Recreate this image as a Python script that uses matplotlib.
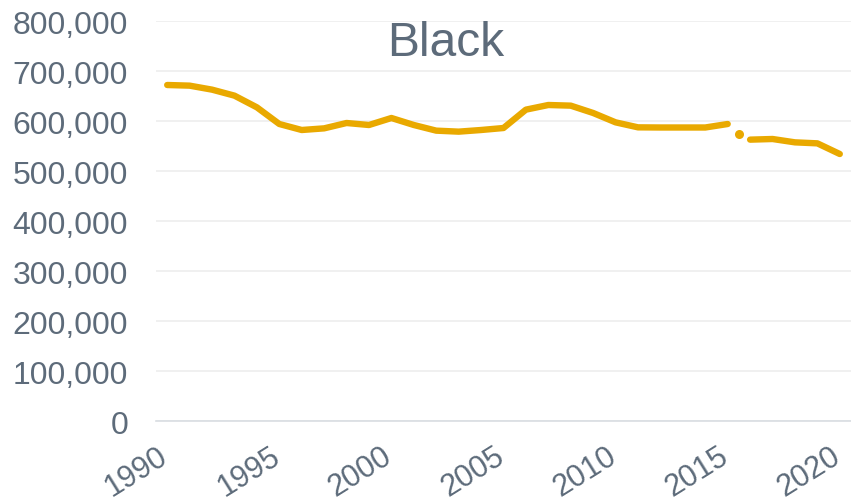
import matplotlib
matplotlib.use("Agg")
import matplotlib.pyplot as plt
import matplotlib.transforms as mtransforms

plt.rcParams['font.family'] = ['Liberation Sans', 'DejaVu Sans']

years = list(range(1990, 2016))
values = [672000, 670700, 662700, 650700, 627300, 594000, 582000, 585300,
          596000, 592000, 606000, 592000, 580700, 578700, 582000, 586000,
          622700, 632000, 630700, 616000, 597300, 587300, 587000, 587000,
          587000, 594000]
gap_year = [2015.5]
gap_value = [574000]
years_new = [2016, 2017, 2018, 2019, 2020]
values_new = [562700, 564000, 557300, 555300, 534000]

yticks = list(range(0, 800001, 100000))
xticks = [1990, 1995, 2000, 2005, 2010, 2015, 2020]

gold = '#e9a900'
grey = '#5d6b7a'

fig = plt.figure(figsize=(8.51, 5.02), dpi=100)
ax = fig.add_axes([156/851, 1 - 422/502, 1 - 156/851, 400/502])

ax.plot(years, values, color=gold, lw=4.6, solid_capstyle='round', solid_joinstyle='round', zorder=3)
ax.plot(gap_year, gap_value, 'o', color=gold, ms=6.5, mec='none', zorder=3)
ax.plot(years_new, values_new, color=gold, lw=4.6, solid_capstyle='round', solid_joinstyle='round', zorder=3)

ax.set_xlim(1989.5, 2020.5)
ax.set_ylim(0, 800000)
ax.set_yticks(yticks)
ax.set_yticklabels([f"{v:,}" for v in yticks])
ax.set_xticks(xticks)
ax.set_xticklabels([str(x) for x in xticks], rotation=32, ha='right')
ax.tick_params(axis='both', length=0, labelsize=23, colors=grey)
ax.tick_params(axis='x', labelsize=22, pad=14)
ax.tick_params(axis='y', pad=20)

# nudge the year labels a little to the right
shift = mtransforms.ScaledTranslation(6/100, 0, fig.dpi_scale_trans)
for lab in ax.get_xticklabels():
    lab.set_transform(lab.get_transform() + shift)

ax.grid(axis='y', color='#eeeeee', lw=1.2)
ax.set_axisbelow(True)
for s in ['top', 'right', 'left']:
    ax.spines[s].set_visible(False)
ax.spines['bottom'].set_color('#d9dde2')
ax.spines['bottom'].set_linewidth(1.2)

fig.text(446/851, 1 - 43/502, "Black", ha='center', va='center', fontsize=34.5, color=grey)

fig.savefig("out.png", dpi=100)
